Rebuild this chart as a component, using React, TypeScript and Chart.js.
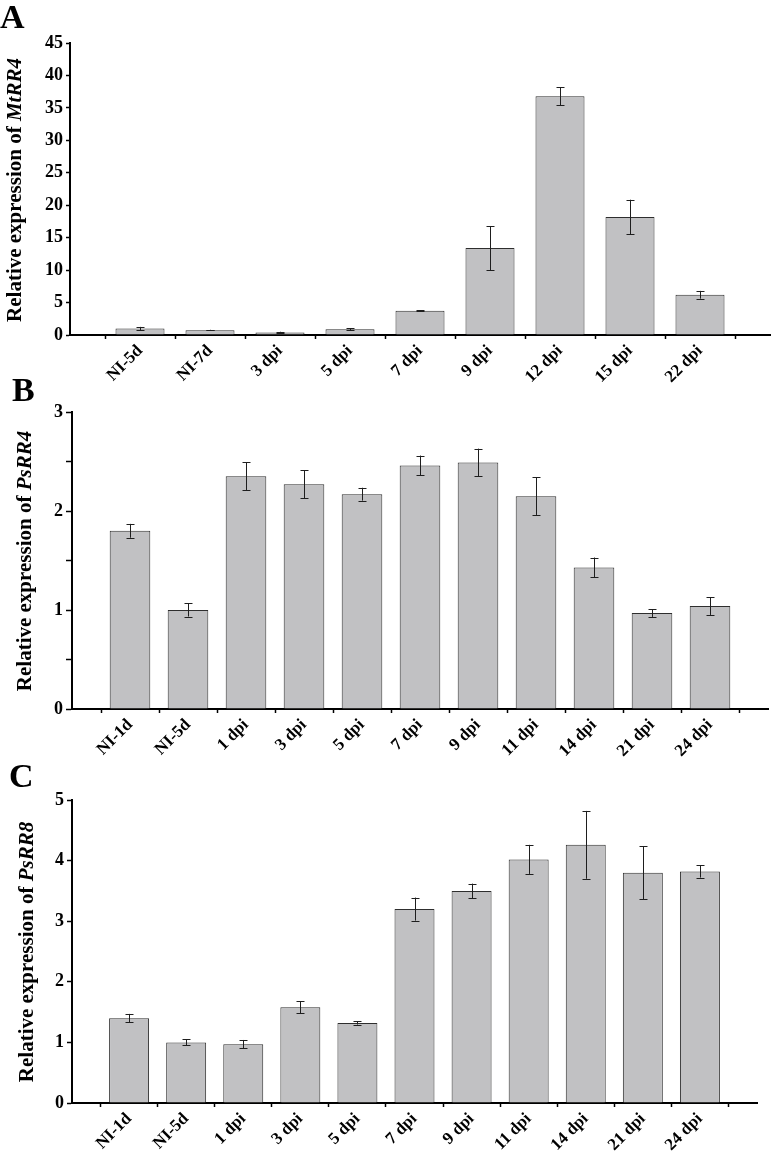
import React, { useEffect, useRef } from "react";
import { Chart, registerables } from "chart.js";

Chart.register(...registerables);

const FONT = "'Liberation Serif', 'Times New Roman', serif";

const categoriesA = ["NI-5d", "NI-7d", "3 dpi", "5 dpi", "7 dpi", "9 dpi", "12 dpi", "15 dpi", "22 dpi"];
const valuesA = [1.0, 0.75, 0.4, 0.9, 3.75, 13.4, 36.8, 18.2, 6.2];
const errorsA = [0.25, 0.05, 0.1, 0.15, 0.1, 3.4, 1.4, 2.65, 0.6];

const categoriesB = ["NI-1d", "NI-5d", "1 dpi", "3 dpi", "5 dpi", "7 dpi", "9 dpi", "11 dpi", "14 dpi", "21 dpi", "24 dpi"];
const valuesB = [1.8, 1.0, 2.35, 2.27, 2.17, 2.46, 2.49, 2.15, 1.43, 0.97, 1.04];
const errorsB = [0.07, 0.066, 0.14, 0.14, 0.065, 0.1, 0.14, 0.19, 0.1, 0.04, 0.09];

const categoriesC = ["NI-1d", "NI-5d", "1 dpi", "3 dpi", "5 dpi", "7 dpi", "9 dpi", "11 dpi", "14 dpi", "21 dpi", "24 dpi"];
const valuesC = [1.4, 1.0, 0.97, 1.58, 1.32, 3.2, 3.5, 4.02, 4.26, 3.8, 3.82];
const errorsC = [0.07, 0.05, 0.07, 0.1, 0.025, 0.19, 0.12, 0.24, 0.56, 0.44, 0.1];

type PanelProps = {
  cats: string[];
  vals: number[];
  errs: number[];
  yMax: number;
  yStep: number;
  labelStep: number;
  top: number;
  height: number;
  area: { left: number; right: number; top: number; bottom: number };
  yTickLen: number;
};

function Panel(p: PanelProps) {
  const ref = useRef<HTMLCanvasElement | null>(null);
  useEffect(() => {
    if (!ref.current) return;
    const W = 771;
    const labels = ["", ...p.cats, ""];
    const data = [null, ...p.vals, null];
    const errs = [null, ...p.errs, null];
    const errorBars = {
      id: "errorBars",
      afterDatasetsDraw(chart: any) {
        const meta = chart.getDatasetMeta(0);
        const y = chart.scales.y;
        const ctx = chart.ctx;
        ctx.save();
        ctx.strokeStyle = "#1e1e1e";
        ctx.lineWidth = 1;
        meta.data.forEach((bar: any, i: number) => {
          const v = data[i];
          const e = errs[i];
          if (v == null || e == null) return;
          const x = Math.round(bar.x) + 0.5;
          const y1 = y.getPixelForValue(v + e);
          const y2 = y.getPixelForValue(v - e);
          const cap = 4;
          ctx.beginPath();
          ctx.moveTo(x, y1);
          ctx.lineTo(x, y2);
          ctx.moveTo(x - cap, Math.round(y1) + 0.5);
          ctx.lineTo(x + cap, Math.round(y1) + 0.5);
          ctx.moveTo(x - cap, Math.round(y2) + 0.5);
          ctx.lineTo(x + cap, Math.round(y2) + 0.5);
          ctx.stroke();
        });
        ctx.restore();
      },
    };
    const chart = new Chart(ref.current, {
      type: "bar",
      data: {
        labels,
        datasets: [
          {
            data,
            backgroundColor: "#c1c1c3",
            borderColor: "#2e2e2e",
            borderWidth: 1,
            barPercentage: 0.7,
            categoryPercentage: 1,
          },
        ],
      },
      plugins: [errorBars],
      options: {
        animation: false,
        responsive: false,
        layout: {
          padding: { top: p.area.top, left: 0, right: W - p.area.right, bottom: 0 },
        },
        plugins: {
          legend: { display: false },
          tooltip: { enabled: false },
          title: { display: false },
        },
        scales: {
          x: {
            type: "category",
            offset: false,
            grid: {
              display: true,
              offset: true,
              drawOnChartArea: false,
              drawTicks: true,
              tickLength: 4,
              tickColor: "#000",
              tickWidth: 1.5,
            },
            border: { display: true, color: "#000", width: 2 },
            ticks: {
              autoSkip: false,
              maxRotation: 45,
              minRotation: 45,
              padding: 2,
              color: "#000",
              font: { family: FONT, size: 17, weight: "bold" },
            },
            afterFit: (s: any) => {
              s.height = p.height - p.area.bottom;
              s.paddingLeft = 0;
              s.paddingRight = 0;
            },
          },
          y: {
            min: 0,
            max: p.yMax,
            grid: {
              display: true,
              drawOnChartArea: false,
              drawTicks: true,
              tickLength: p.yTickLen,
              tickColor: "#000",
              tickWidth: 1.5,
            },
            border: { display: true, color: "#000", width: 2 },
            ticks: {
              stepSize: p.yStep,
              padding: 3,
              color: "#000",
              font: { family: FONT, size: 18, weight: "bold" },
              callback: (v: any) => {
                const n = Number(v);
                return Math.abs(n / p.labelStep - Math.round(n / p.labelStep)) < 1e-6 ? String(Math.round(n * 100) / 100) : "";
              },
            },
            afterFit: (s: any) => {
              s.width = p.area.left;
              s.paddingTop = 0;
              s.paddingBottom = 0;
            },
          },
        },
      } as any,
    });
    return () => chart.destroy();
  }, []);
  return (
    <canvas
      ref={ref}
      width={771}
      height={p.height}
      style={{ position: "absolute", left: 0, top: p.top, width: 771, height: p.height }}
    />
  );
}

const letterStyle: React.CSSProperties = {
  position: "absolute",
  fontFamily: FONT,
  fontWeight: "bold",
  fontSize: 34,
  lineHeight: "34px",
  color: "#000",
};

function YTitle({ cx, cy, gene }: { cx: number; cy: number; gene: string }) {
  return (
    <div
      style={{
        position: "absolute",
        left: cx,
        top: cy,
        transform: "translate(-50%, -50%) rotate(-90deg)",
        whiteSpace: "nowrap",
        fontFamily: FONT,
        fontWeight: "bold",
        fontSize: 21,
        lineHeight: "21px",
        color: "#000",
      }}
    >
      Relative expression of <i>{gene}</i>
    </div>
  );
}

export default function App() {
  return (
    <div style={{ position: "absolute", left: 0, top: 0, width: 771, height: 1163, background: "#fff", overflow: "hidden" }}>
      <Panel
        cats={categoriesA}
        vals={valuesA}
        errs={errorsA}
        yMax={45}
        yStep={5}
        labelStep={5}
        top={0}
        height={390}
        area={{ left: 70, right: 770, top: 43, bottom: 335 }}
        yTickLen={4}
      />
      <Panel
        cats={categoriesB}
        vals={valuesB}
        errs={errorsB}
        yMax={3}
        yStep={0.5}
        labelStep={1}
        top={370}
        height={400}
        area={{ left: 72, right: 768, top: 42, bottom: 339 }}
        yTickLen={6}
      />
      <Panel
        cats={categoriesC}
        vals={valuesC}
        errs={errorsC}
        yMax={5}
        yStep={1}
        labelStep={1}
        top={760}
        height={403}
        area={{ left: 72, right: 757, top: 40, bottom: 343 }}
        yTickLen={5}
      />
      <div style={{ ...letterStyle, left: 0, top: 0 }}>A</div>
      <div style={{ ...letterStyle, left: 12, top: 373 }}>B</div>
      <div style={{ ...letterStyle, left: 9, top: 759 }}>C</div>
      <YTitle cx={14} cy={190} gene="MtRR4" />
      <YTitle cx={24} cy={561} gene="PsRR4" />
      <YTitle cx={26} cy={952} gene="PsRR8" />
    </div>
  );
}
